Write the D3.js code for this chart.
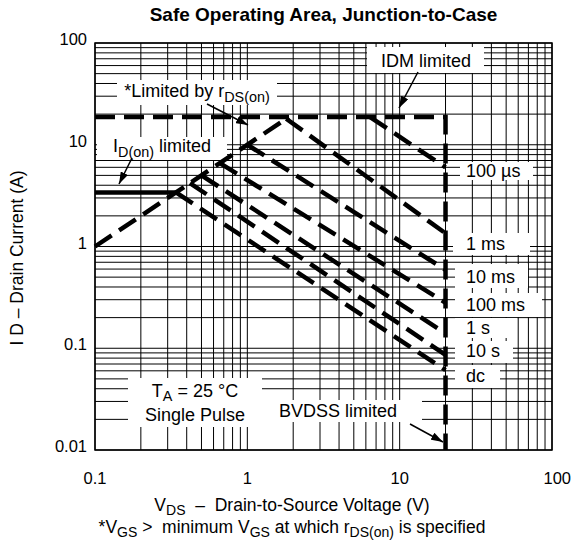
<!DOCTYPE html>
<html>
<head>
<meta charset="utf-8">
<script src="https://cdn.jsdelivr.net/npm/d3@7"></script>
<style>
  body { margin: 0; background: #fff; }
  text { font-family: "Liberation Sans", Arial, Helvetica, sans-serif; fill: #000; }
</style>
</head>
<body>
<svg id="chart" width="572" height="545"></svg>
<script>
// ---- values ----
const xTickValues = [0.1, 1, 10, 100];
const xTickLabels = ["0.1", "1", "10", "100"];
const yTickValues = [0.01, 0.1, 1, 10, 100];
const yTickLabels = ["0.01", "0.1", "1", "10", "100"];

const idmLimit = 18.7;          // A, pulsed drain current limit
const bvdss = 20;               // V, breakdown limit
const idOnLimit = 3.4;          // A, on-state current limit
const rdsLineV = [0.1, 1.87];   // rDS(on) limited line, V
const rdsLineI = [1.0, 18.7];   //                        A

const pulseLabels = ["100 \u00b5s", "1 ms", "10 ms", "100 ms", "1 s", "10 s", "dc"];
const pulseStartV = [6.4, 1.8, 1.0, 0.66, 0.5, 0.42, 0.34];
const pulseStartI = [18.7, 18.0, 10.0, 6.6, 5.0, 4.2, 3.4];
const pulseEndI   = [6.0, 1.35, 0.59, 0.28, 0.14, 0.086, 0.061];

// ---- layout ----
const W = 572, H = 545;
const plot = {left: 95, right: 552, top: 43, bottom: 450};
// label boxes next to the BVDSS line: [x, y, w, h], text baseline y
const pulseBox = [[460,162,73,18],[453,233,77,22],[455,264,73,24],[455,293,87,24],[455,318,62,20],[455,341,58,22],[455,365,45,23]];
const pulseTextY = [177, 250, 283, 311, 334, 357, 382];

const svg = d3.select("#chart");

const x = d3.scaleLog().domain([0.1, 100]).range([plot.left, plot.right]);
const y = d3.scaleLog().domain([0.01, 100]).range([plot.bottom, plot.top]);

// defs: arrow head
svg.append("defs").append("marker")
    .attr("id", "arr")
    .attr("markerUnits", "userSpaceOnUse")
    .attr("viewBox", "0 0 12 8")
    .attr("refX", 12).attr("refY", 4)
    .attr("markerWidth", 12).attr("markerHeight", 8)
    .attr("orient", "auto")
  .append("path").attr("d", "M0,0 L12,4 L0,8 Z").attr("fill", "#000");

// grid
const grid = svg.append("g").attr("class", "grid");
grid.selectAll("line.gx").data(x.ticks()).enter().append("line")
    .attr("x1", d => x(d)).attr("x2", d => x(d))
    .attr("y1", plot.top).attr("y2", plot.bottom)
    .attr("stroke", "#000").attr("stroke-width", 1);
grid.selectAll("line.gy").data(y.ticks()).enter().append("line")
    .attr("y1", d => y(d)).attr("y2", d => y(d))
    .attr("x1", plot.left).attr("x2", plot.right)
    .attr("stroke", "#000").attr("stroke-width", 1);
svg.append("rect")
    .attr("x", plot.left).attr("y", plot.top)
    .attr("width", plot.right - plot.left).attr("height", plot.bottom - plot.top)
    .attr("fill", "none").attr("stroke", "#000").attr("stroke-width", 1.5);

// tick labels
svg.append("g").selectAll("text").data(xTickValues).enter().append("text")
    .attr("x", (d, i) => i == xTickValues.length - 1 ? W - 1 : x(d))
    .attr("y", 484)
    .attr("text-anchor", (d, i) => i == xTickValues.length - 1 ? "end" : "middle")
    .attr("font-size", 16.5)
    .text((d, i) => xTickLabels[i]);
svg.append("g").selectAll("text").data(yTickValues).enter().append("text")
    .attr("x", plot.left - 8)
    .attr("y", d => y(d) + 2)
    .attr("text-anchor", "end")
    .attr("font-size", 16.5)
    .text((d, i) => yTickLabels[i]);

// text with subscripts: parts = [[text, isSub], ...]
function rich(g, px, py, parts, size, anchor, shift) {
    const s = shift || 0.28;
    const t = g.append("text").attr("x", px).attr("y", py)
        .attr("font-size", size).attr("text-anchor", anchor || "start");
    let down = false;
    parts.forEach(p => {
        const ts = t.append("tspan").text(p[0]);
        if (p[1] && !down) { ts.attr("dy", size * s).attr("font-size", size * 0.8); down = true; }
        else if (p[1]) { ts.attr("font-size", size * 0.8); }
        else if (down) { ts.attr("dy", -size * s); down = false; }
    });
    return t;
}

// white knock-out boxes behind annotations
const boxes = svg.append("g");
function box(bx, by, bw, bh) {
    boxes.append("rect").attr("x", bx).attr("y", by).attr("width", bw).attr("height", bh).attr("fill", "#fff");
}
box(367, 47, 117, 26);    // IDM limited
box(117, 80, 160, 25);    // Limited by rDS(on)
box(97, 137, 130, 23);    // ID(on) limited
box(128, 378, 134, 49);   // TA / single pulse
box(255, 400, 167, 22);   // BVDSS limited
pulseBox.forEach(b => box(b[0], b[1], b[2], b[3]));

// curves
const lines = svg.append("g").attr("fill", "none").attr("stroke", "#000");
const path = d3.line().x(d => x(d[0])).y(d => y(d[1]));
const dash = "20,9";

// IDM limit + BVDSS limit
lines.append("path")
    .attr("d", path([[0.1, idmLimit], [bvdss, idmLimit], [bvdss, 0.01]]))
    .attr("stroke-width", 4.5).attr("stroke-dasharray", dash);

// rDS(on) limit
lines.append("path")
    .attr("d", path(rdsLineV.map((v, i) => [v, rdsLineI[i]])))
    .attr("stroke-width", 4.5).attr("stroke-dasharray", dash);

// ID(on) limit (solid)
lines.append("path")
    .attr("d", path([[0.1, idOnLimit], [pulseStartV[6], idOnLimit]]))
    .attr("stroke-width", 4.5);

// pulse-width lines
lines.selectAll("path.pulse").data(pulseLabels).enter().append("path")
    .attr("class", "pulse")
    .attr("d", (d, i) => path([[pulseStartV[i], pulseStartI[i]], [bvdss, pulseEndI[i]]]))
    .attr("stroke-width", 4.5).attr("stroke-dasharray", dash);

// annotation texts
const ann = svg.append("g");
pulseLabels.forEach((lab, i) => {
    ann.append("text").attr("x", 466).attr("y", pulseTextY[i]).attr("font-size", 18).text(lab);
});
ann.append("text").attr("x", 426).attr("y", 67).attr("font-size", 18).attr("text-anchor", "middle").text("IDM limited");
rich(ann, 197, 97, [["*Limited by r"], ["DS(on)", true]], 18, "middle");
rich(ann, 162, 152, [["I"], ["D(on)", true], [" limited"]], 18, "middle");
rich(ann, 195, 397, [["T"], ["A", true], [" = 25 \u00b0C"]], 18, "middle", 0.2);
ann.append("text").attr("x", 195).attr("y", 421).attr("font-size", 18).attr("text-anchor", "middle").text("Single Pulse");
ann.append("text").attr("x", 338).attr("y", 417).attr("font-size", 18).attr("text-anchor", "middle").text("BVDSS limited");

// arrows
const arrows = svg.append("g").attr("stroke", "#000").attr("stroke-width", 1.5);
[[418, 72, 399, 108], [207, 104, 248, 125], [132, 158, 119, 184], [410, 424, 443, 442]].forEach(a => {
    arrows.append("line").attr("x1", a[0]).attr("y1", a[1]).attr("x2", a[2]).attr("y2", a[3])
        .attr("marker-end", "url(#arr)");
});

// titles
svg.append("text").attr("x", (plot.left + plot.right) / 2).attr("y", 21)
    .attr("text-anchor", "middle").attr("font-size", 19).attr("font-weight", "bold")
    .text("Safe Operating Area, Junction-to-Case");
rich(svg, 292, 511, [["V"], ["DS", true], ["\u00a0\u00a0\u2013\u00a0\u00a0Drain-to-Source Voltage (V)"]], 17.5, "middle", 0.2);
rich(svg, 292, 533, [["*V"], ["GS", true], ["\u00a0>\u00a0\u00a0minimum V"], ["GS", true], [" at which r"], ["DS(on)", true], [" is specified"]], 17.5, "middle", 0.2);
svg.append("text")
    .attr("transform", "translate(23," + 258 + ") rotate(-90)")
    .attr("text-anchor", "middle").attr("font-size", 17.5)
    .text("I D \u2013 Drain Current (A)");
</script>
</body>
</html>
